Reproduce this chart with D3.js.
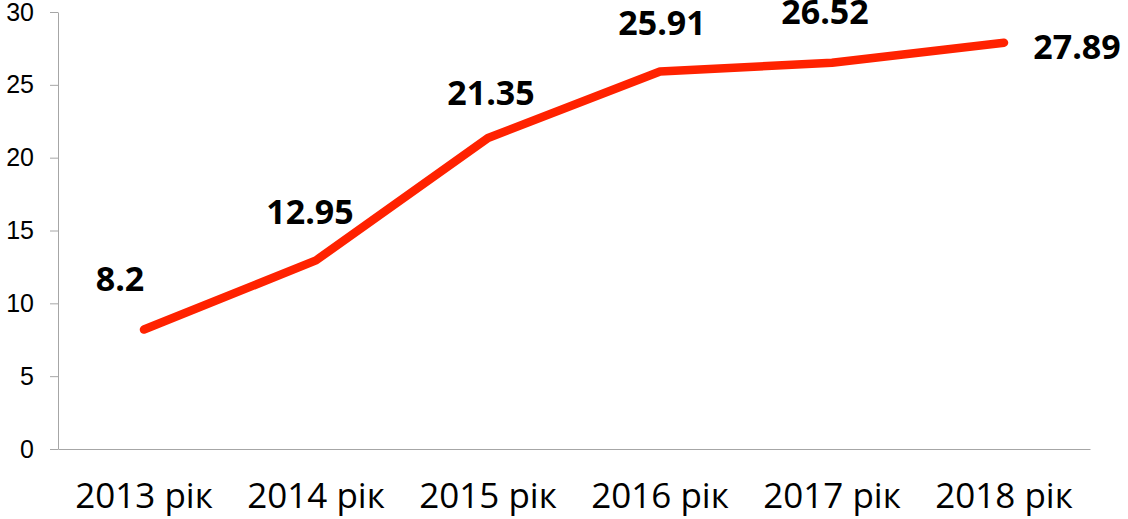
<!DOCTYPE html>
<html lang="uk">
<head>
    <meta charset="UTF-8">
    <title>Chart</title>
    <style type="text/css">
        * {
            margin: 0;
            padding: 0;
        }

        body {
            background: #fff;
        }

        #chart-area {
            width: 1128px;
            height: 519px;
            overflow: hidden;
        }
    </style>
</head>
<body>
<div id="chart-area"></div>
<script src="https://cdn.jsdelivr.net/npm/d3@7"></script>
<script type="text/javascript">

  const years = ['2013 рік', '2014 рік', '2015 рік', '2016 рік', '2017 рік', '2018 рік']
  const values = [8.2, 12.95, 21.35, 25.91, 26.52, 27.89]
  const yTicks = [0, 5, 10, 15, 20, 25, 30]

  // manual nudges of the value labels, relative to each point
  const labelDx = [-24, -6, 3, 2, -7, 73]
  const labelDy = [-39, -36, -33, -37, -39, 16]

  const WIDTH = 1128
  const HEIGHT = 519
  const margin = {left: 58, right: 38, top: 12, bottom: 70}

  const svg = d3.select('#chart-area').append('svg')
      .attr('width', WIDTH)
      .attr('height', HEIGHT)

  const x = d3.scaleBand()
      .domain(years)
      .range([margin.left, WIDTH - margin.right])

  const y = d3.scaleLinear()
      .domain([0, 30])
      .range([HEIGHT - margin.bottom, margin.top])

  // y axis
  const yAxis = svg.append('g')
      .attr('transform', `translate(${margin.left}, 0)`)
      .call(d3.axisLeft(y).tickValues(yTicks).tickSize(8).tickPadding(16).tickSizeOuter(0))

  yAxis.select('.domain').attr('stroke', '#a6a6a6')
  yAxis.selectAll('.tick line').attr('stroke', '#a6a6a6')
  yAxis.selectAll('.tick text')
      .attr('fill', '#000')
      .attr('font-family', '"Liberation Sans", Arial, sans-serif')
      .attr('font-size', '25px')

  // x axis
  const xAxis = svg.append('g')
      .attr('transform', `translate(0, ${y(0)})`)
      .call(d3.axisBottom(x).tickSize(0).tickPadding(34).tickSizeOuter(0))

  xAxis.select('.domain').attr('stroke', '#a6a6a6')
  xAxis.selectAll('.tick text')
      .attr('fill', '#000')
      .attr('font-family', '"Open Sans", sans-serif')
      .attr('font-size', '35px')

  const cx = (i) => x(years[i]) + x.bandwidth() / 2

  const line = d3.line()
      .x((d, i) => cx(i))
      .y((d) => y(d))

  svg.append('path')
      .datum(values)
      .attr('d', line)
      .attr('fill', 'none')
      .attr('stroke', '#ff2200')
      .attr('stroke-width', 8.5)
      .attr('stroke-linecap', 'round')
      .attr('stroke-linejoin', 'round')

  svg.selectAll('.val')
      .data(values)
      .enter()
      .append('text')
      .attr('class', 'val')
      .attr('x', (d, i) => cx(i) + labelDx[i])
      .attr('y', (d, i) => y(d) + labelDy[i])
      .attr('text-anchor', 'middle')
      .attr('font-family', '"Open Sans", sans-serif')
      .attr('font-weight', 'bold')
      .attr('font-size', '34px')
      .attr('fill', '#000')
      .text((d) => d)

</script>
</body>
</html>
